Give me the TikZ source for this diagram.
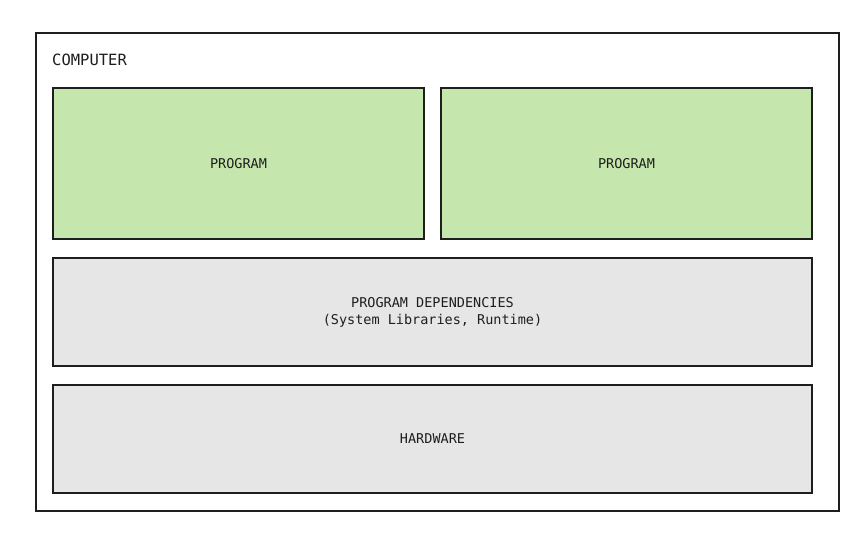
\documentclass[tikz,border=0pt]{standalone}
\usepackage{fontspec}
\setmonofont{DejaVu Sans Mono}
\definecolor{progfill}{HTML}{C5E7AD}
\definecolor{depfill}{HTML}{E6E6E6}
\definecolor{edge}{HTML}{1E1E1E}
\begin{document}
\begin{tikzpicture}[x=1pt,y=-1pt,
  box/.style={draw=edge,line width=2pt,inner sep=0pt,font=\ttfamily\fontsize{13.5}{17}\selectfont,text=edge,align=center},
  progbox/.style={box,fill=progfill},
  depbox/.style={box,fill=depfill}]
\useasboundingbox[fill=white] (0,0) rectangle (868,535);
\node[draw=edge,line width=2pt,minimum width=803pt,minimum height=478pt,inner sep=0pt] (computer) at (437.5,272) {};
\node[anchor=base west,font=\ttfamily\fontsize{15.5}{18}\selectfont,text=edge,inner sep=0pt] (label) at (52,66) {COMPUTER};
\node[progbox,minimum width=371pt,minimum height=151pt] (p1) at (238.5,163.5) {PROGRAM};
\node[progbox,minimum width=371pt,minimum height=151pt] (p2) at (626.5,163.5) {PROGRAM};
\node[depbox,minimum width=759pt,minimum height=108pt] (deps) at (432.5,312) {PROGRAM DEPENDENCIES\\(System Libraries, Runtime)};
\node[depbox,minimum width=759pt,minimum height=108pt] (hw) at (432.5,438.5) {HARDWARE};
\end{tikzpicture}
\end{document}
